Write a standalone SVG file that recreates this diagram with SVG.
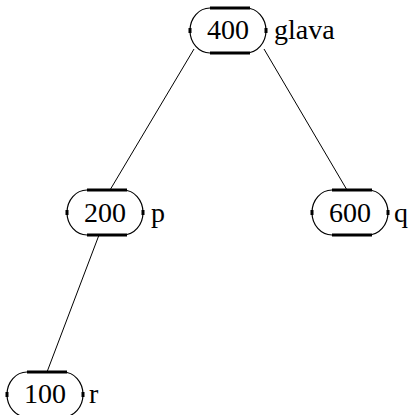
<svg xmlns="http://www.w3.org/2000/svg" width="410" height="415" viewBox="0 0 410 415">
<style>
.box{fill:#fff;stroke:#000;stroke-width:1.2}
.thick{stroke:#000;stroke-width:3;fill:none}
.t{font-family:"Liberation Serif",serif;font-size:28px;fill:#000}
.c{text-anchor:middle}
.edge{stroke:#000;stroke-width:1;fill:none}
</style>
<g id="connectors">
<line class="edge" x1="194" y1="49" x2="110" y2="190"/>
<line class="edge" x1="264" y1="49" x2="347" y2="190"/>
<line class="edge" x1="99" y1="235" x2="47" y2="372"/>
</g>
<g id="n400">
<rect class="box" x="190" y="8" width="76" height="45" rx="20" ry="22.5"/>
<line class="thick" x1="210" y1="8" x2="250" y2="8"/>
<line class="thick" x1="210" y1="53" x2="250" y2="53"/>
<line class="thick" x1="190" y1="28" x2="190" y2="33"/>
<line class="thick" x1="266" y1="28" x2="266" y2="33"/>
<text class="t c" x="228" y="39">400</text>
<text class="t" x="274" y="39">glava</text>
</g>
<g id="n200">
<rect class="box" x="67" y="190" width="76" height="45" rx="20" ry="22.5"/>
<line class="thick" x1="87" y1="190" x2="127" y2="190"/>
<line class="thick" x1="87" y1="235" x2="127" y2="235"/>
<line class="thick" x1="67" y1="210" x2="67" y2="215"/>
<line class="thick" x1="143" y1="210" x2="143" y2="215"/>
<text class="t c" x="105" y="222">200</text>
<text class="t" x="151" y="222">p</text>
</g>
<g id="n600">
<rect class="box" x="312" y="190" width="76" height="45" rx="20" ry="22.5"/>
<line class="thick" x1="332" y1="190" x2="372" y2="190"/>
<line class="thick" x1="332" y1="235" x2="372" y2="235"/>
<line class="thick" x1="312" y1="210" x2="312" y2="215"/>
<line class="thick" x1="388" y1="210" x2="388" y2="215"/>
<text class="t c" x="350" y="222">600</text>
<text class="t" x="394" y="222">q</text>
</g>
<g id="n100">
<rect class="box" x="7" y="372" width="76" height="45" rx="20" ry="22.5"/>
<line class="thick" x1="27" y1="372" x2="67" y2="372"/>
<line class="thick" x1="7" y1="392" x2="7" y2="397"/>
<line class="thick" x1="83" y1="392" x2="83" y2="397"/>
<text class="t c" x="45" y="403">100</text>
<text class="t" x="89" y="403">r</text>
</g>
</svg>
